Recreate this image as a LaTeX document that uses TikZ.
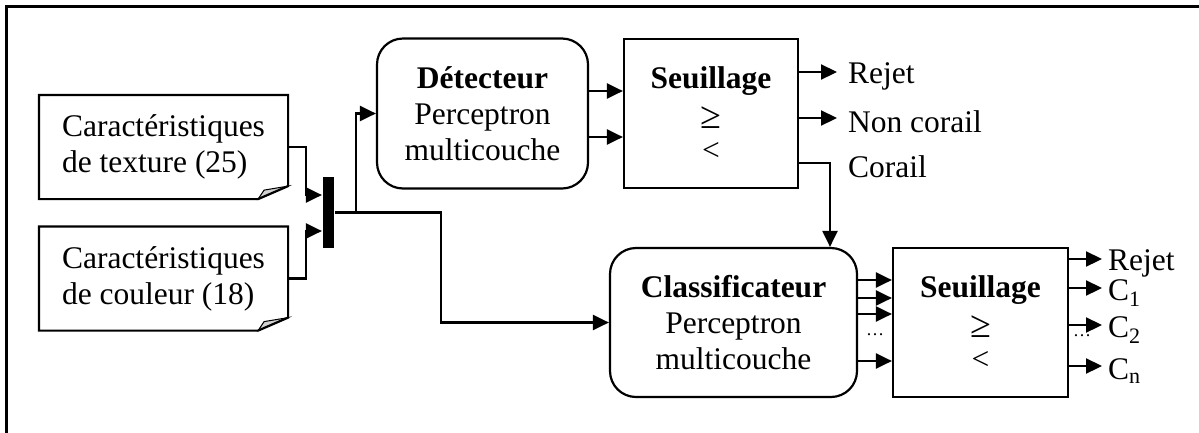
\documentclass[tikz,border=0pt]{standalone}
\usepackage{fontspec}
\setmainfont{Liberation Serif}
\usetikzlibrary{positioning,arrows.meta}

\begin{document}
\begin{tikzpicture}[x=1pt,y=-1pt,line width=2.2pt,
  every node/.style={font=\fontsize{31.5}{36}\selectfont},
  arr/.style={-{Triangle[length=16pt,width=15pt]}},
  mlp/.style={draw,rounded corners=26pt,align=center,inner sep=0pt,minimum height=149pt},
  thresh/.style={draw,align=center,inner sep=0pt,minimum width=175pt,minimum height=149pt},
  doc/.style={align=left,inner sep=0pt,minimum width=247pt,minimum height=102pt},
  lbl/.style={inner sep=0pt},
  dots/.style={font=\fontsize{18}{18}\selectfont,inner sep=0pt}]
% define document shape with folded corner 'docshape'
\def\docshape#1{%
  \draw[line width=1pt,fill=gray!35] ([xshift=-30pt]#1.south east) -- ([yshift=13pt]#1.south east) -- ([shift={(-24pt,9pt)}]#1.south east) -- cycle;
  \draw (#1.south west) -- (#1.north west) -- (#1.north east) -- ([yshift=13pt]#1.south east) -- ([xshift=-30pt]#1.south east) -- cycle;}
\def\gte{{\fontsize{38}{36}\selectfont\raisebox{-4pt}{≥}}}

% Outer frame, cut at the right and bottom
\useasboundingbox (0,0) rectangle (1199,432);
\draw[line width=3pt] (6,6) rectangle (1215,445);

% Input feature files
\node[doc] (tex) at (163.5,147) {Caractéristiques\\de texture (25)};
\node[doc] (col) at (163.5,278.5) {Caractéristiques\\de couleur (18)};
\docshape{tex}
\docshape{col}

% Merge bar
\node[fill,inner sep=0pt,minimum width=11pt,minimum height=71pt] (bar) at (328.5,212.5) {};

% Networks and thresholds
\node[mlp,minimum width=211pt,minimum height=150pt] (det) at (482.5,113.5) {\textbf{Détecteur}\\Perceptron\\multicouche};
\node[thresh,minimum width=174pt] (seuil1) at (711,113.5) {\textbf{Seuillage}\\\gte\\<};
\node[mlp,minimum width=247pt] (cls) at (733.5,322.5) {\textbf{Classificateur}\\Perceptron\\multicouche};
\node[thresh] (seuil2) at (980.5,322.5) {\textbf{Seuillage}\\\gte\\<};

% Inputs into the bar
\draw[arr] (tex.east) -- ++(18,0) |- ([yshift=17.5pt]bar.west);
\draw[arr] (col.east) -- ++(18,0) |- ([yshift=-18.5pt]bar.west);

% Bar to both networks
\draw[arr] (bar.east) -- ++(21,0) |- (det.west);
\draw[arr] (bar.east) -- ++(106,0) |- (cls.west);

% Detector to first threshold
\draw[arr] ([yshift=22.5pt]det.east) -- ([yshift=22.5pt]seuil1.west);
\draw[arr] ([yshift=-23.5pt]det.east) -- ([yshift=-23.5pt]seuil1.west);

% First threshold outputs
\coordinate (r1) at (837,72);
\coordinate (r2) at (837,118);
\coordinate (cd) at (830,163);
\node[lbl,right=10pt of r1,yshift=-4pt] (rej1) {Rejet};
\node[lbl,right=10pt of r2,yshift=-4pt] (nc) {Non corail};
\node[lbl,right=17pt of cd,yshift=-4pt] (cor) {Corail};
\draw[arr] (seuil1.east |- r1) -- (r1);
\draw[arr] (seuil1.east |- r2) -- (r2);
\draw[arr] (seuil1.east |- cd) -- (cd) -- (cd |- cls.north);

% Classifier to second threshold
\foreach \dy in {42.5,24.5,8.5,-38.5}
  \draw[arr] ([yshift=\dy pt]cls.east) -- ([yshift=\dy pt]seuil2.west);
\node[dots] (d1) at (875,335) {\ldots};

% Second threshold outputs
\coordinate (o1) at (1102,259);
\coordinate (o2) at (1102,288);
\coordinate (o3) at (1102,325);
\coordinate (o4) at (1102,366);
\node[lbl,right=5pt of o1,yshift=-4pt] (rej2) {Rejet};
\node[lbl,right=5pt of o2,yshift=-5pt] (c1) {C\textsubscript{1}};
\node[lbl,right=5pt of o3,yshift=-5pt] (c2) {C\textsubscript{2}};
\node[lbl,right=5pt of o4,yshift=-5pt] (cn) {C\textsubscript{n}};
\draw[arr] (seuil2.east |- o1) -- (o1);
\draw[arr] (seuil2.east |- o2) -- (o2);
\draw[arr] (seuil2.east |- o3) -- (o3);
\draw[arr] (seuil2.east |- o4) -- (o4);
\node[dots] (d2) at (1082,336) {\ldots};

\end{tikzpicture}
\end{document}
